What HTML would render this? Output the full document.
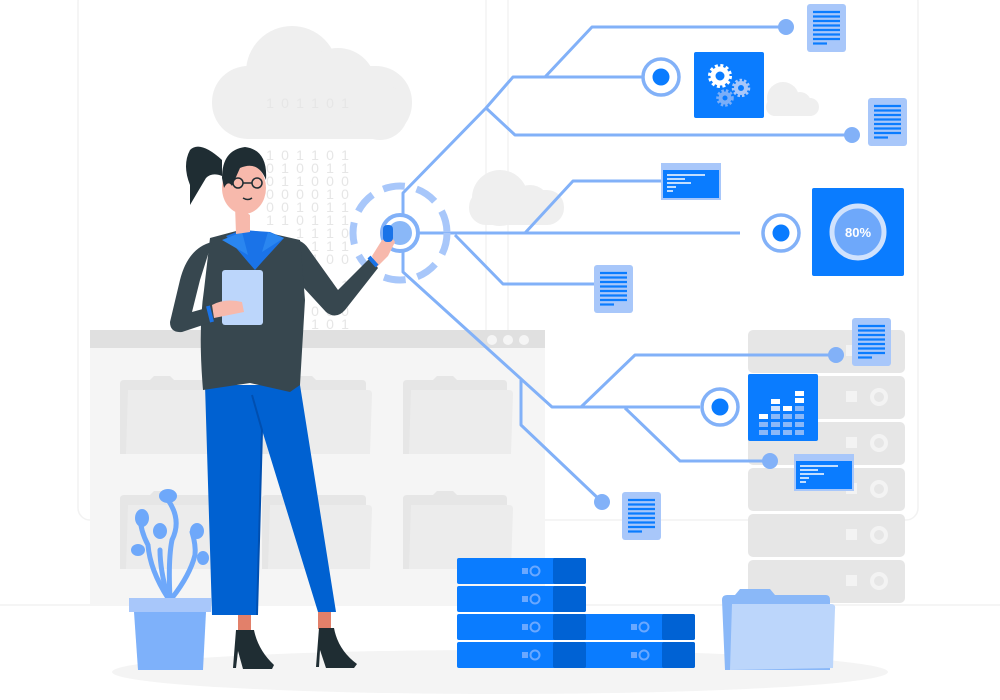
<!DOCTYPE html>
<html><head><meta charset="utf-8"><style>
html,body{margin:0;padding:0;background:#fff;width:1000px;height:700px;overflow:hidden}
svg{display:block}
</style></head><body>
<svg width="1000" height="700" viewBox="0 0 1000 700" xmlns="http://www.w3.org/2000/svg" font-family="Liberation Sans, sans-serif">
<defs>
<g id="doc"><rect x="0" y="0" width="39" height="48" rx="3" fill="#a8c7fa"/>
<g stroke="#0a7cff" stroke-width="2.2"><line x1="6" y1="8" x2="33" y2="8"/><line x1="6" y1="12.5" x2="33" y2="12.5"/><line x1="6" y1="17" x2="33" y2="17"/><line x1="6" y1="21.5" x2="33" y2="21.5"/><line x1="6" y1="26" x2="33" y2="26"/><line x1="6" y1="30.5" x2="33" y2="30.5"/><line x1="6" y1="35" x2="33" y2="35"/><line x1="6" y1="39.5" x2="20" y2="39.5"/></g></g>
<g id="win"><rect x="0" y="0" width="60" height="37" fill="#a8c7fa"/><rect x="2" y="7" width="56" height="28" fill="#0a7cff"/>
<g stroke="#fff" stroke-width="1.5"><line x1="6" y1="12" x2="44" y2="12"/><line x1="6" y1="16" x2="24" y2="16"/><line x1="6" y1="20" x2="30" y2="20"/><line x1="6" y1="24" x2="15" y2="24"/><line x1="6" y1="28" x2="12" y2="28"/></g></g>
<g id="folder"><path d="M0 8 Q0 4 4 4 L30 4 L34 0 L50 0 L54 4 L100 4 Q104 4 104 8 L104 78 L0 78Z" fill="#e6e6e6"/><path d="M8 14 L106 14 Q110 14 110 18 L108 78 L6 78 Z" fill="#ececec"/></g>
<g id="rack"><rect x="0" y="0" width="157" height="43" rx="5" fill="#e6e6e6"/><rect x="98" y="15" width="11" height="11" fill="#f3f3f3"/><circle cx="131" cy="21" r="7" fill="none" stroke="#f3f3f3" stroke-width="4"/></g>
<g id="srv"><rect x="0" y="0" width="129" height="26" rx="2" fill="#0a7cff"/><rect x="96" y="0" width="33" height="26" rx="2" fill="#0062d4"/><rect x="65" y="10" width="6" height="6" fill="#6aa8ff"/><circle cx="78" cy="13" r="4.5" fill="none" stroke="#6aa8ff" stroke-width="2"/></g>
</defs>
<rect x="78" y="-10" width="840" height="530" rx="12" fill="none" stroke="#f2f2f2" stroke-width="1.5"/>
<line x1="486" y1="0" x2="486" y2="330" stroke="#f4f4f4" stroke-width="1.5"/>
<line x1="508" y1="0" x2="508" y2="330" stroke="#f4f4f4" stroke-width="1.5"/>
<line x1="0" y1="605" x2="1000" y2="605" stroke="#f2f2f2" stroke-width="1.5"/>
<ellipse cx="500" cy="672" rx="388" ry="22" fill="#f4f4f4"/>
<g fill="#efefef">
<rect x="212" y="66" width="200" height="73" rx="36"/><circle cx="292" cy="72" r="46"/><circle cx="338" cy="86" r="38"/><circle cx="380" cy="112" r="28"/>
<rect x="469" y="190" width="95" height="35" rx="17"/><circle cx="500" cy="198" r="28"/><circle cx="530" cy="205" r="20"/>
<rect x="766" y="98" width="53" height="18" rx="9"/><circle cx="783" cy="98" r="16"/><circle cx="800" cy="103" r="11"/>
</g>
<g fill="#e6e6e6" font-size="14" text-anchor="middle">
<text x="270" y="108">1</text><text x="285" y="108">0</text><text x="300" y="108">1</text><text x="315" y="108">1</text><text x="330" y="108">0</text><text x="345" y="108">1</text>
<text x="270" y="160">1</text><text x="285" y="160">0</text><text x="300" y="160">1</text><text x="315" y="160">1</text><text x="330" y="160">0</text><text x="345" y="160">1</text>
<text x="270" y="173">0</text><text x="285" y="173">1</text><text x="300" y="173">0</text><text x="315" y="173">0</text><text x="330" y="173">1</text><text x="345" y="173">1</text>
<text x="270" y="186">0</text><text x="285" y="186">1</text><text x="300" y="186">1</text><text x="315" y="186">0</text><text x="330" y="186">0</text><text x="345" y="186">0</text>
<text x="270" y="199">0</text><text x="285" y="199">0</text><text x="300" y="199">0</text><text x="315" y="199">0</text><text x="330" y="199">1</text><text x="345" y="199">0</text>
<text x="270" y="212">0</text><text x="285" y="212">0</text><text x="300" y="212">1</text><text x="315" y="212">0</text><text x="330" y="212">1</text><text x="345" y="212">1</text>
<text x="270" y="225">1</text><text x="285" y="225">1</text><text x="300" y="225">0</text><text x="315" y="225">1</text><text x="330" y="225">1</text><text x="345" y="225">1</text>
<text x="300" y="238">1</text><text x="315" y="238">1</text><text x="330" y="238">1</text><text x="345" y="238">0</text>
<text x="300" y="251">0</text><text x="315" y="251">1</text><text x="330" y="251">1</text><text x="345" y="251">1</text>
<text x="300" y="264">0</text><text x="315" y="264">1</text><text x="330" y="264">0</text><text x="345" y="264">0</text>
<text x="300" y="290">1</text><text x="315" y="290">0</text><text x="330" y="290">0</text><text x="345" y="290">1</text>
<text x="300" y="316">1</text><text x="315" y="316">0</text><text x="330" y="316">0</text><text x="345" y="316">0</text>
<text x="300" y="329">1</text><text x="315" y="329">1</text><text x="330" y="329">0</text><text x="345" y="329">1</text>
</g>
<rect x="90" y="330" width="455" height="275" fill="#f5f5f5"/>
<rect x="90" y="330" width="455" height="18" fill="#e0e0e0"/>
<circle cx="492" cy="340" r="5" fill="#f5f5f5"/><circle cx="508" cy="340" r="5" fill="#f5f5f5"/><circle cx="524" cy="340" r="5" fill="#f5f5f5"/>
<use href="#folder" x="120" y="376"/><use href="#folder" x="262" y="376"/><use href="#folder" x="403" y="376"/>
<use href="#folder" x="120" y="491"/><use href="#folder" x="262" y="491"/><use href="#folder" x="403" y="491"/>
<use href="#rack" x="748" y="330"/><use href="#rack" x="748" y="376"/><use href="#rack" x="748" y="422"/><use href="#rack" x="748" y="468"/><use href="#rack" x="748" y="514"/><use href="#rack" x="748" y="560"/>
<g stroke="#82b1f8" stroke-width="3" fill="none" stroke-linejoin="round">
<polyline points="403,233 403,193 486,108 513,77 645,77"/>
<polyline points="545,77 592,27 786,27"/>
<polyline points="486,108 515,135 852,135"/>
<polyline points="403,233 740,233"/>
<polyline points="525,233 573,181 680,181"/>
<polyline points="455,235 503,284 602,284"/>
<polyline points="403,233 403,272 552,407 700,407"/>
<polyline points="521,380 521,425 602,502"/>
<polyline points="581,407 635,355 836,355"/>
<polyline points="625,408 680,461 770,461"/>
</g>
<g fill="#82b1f8"><circle cx="786" cy="27" r="8"/><circle cx="852" cy="135" r="8"/><circle cx="680" cy="181" r="8"/><circle cx="602" cy="284" r="8"/><circle cx="836" cy="355" r="8"/><circle cx="770" cy="461" r="8"/><circle cx="602" cy="502" r="8"/></g>
<g fill="#fff" stroke="#82b1f8" stroke-width="3.5"><circle cx="661" cy="77" r="18"/><circle cx="781" cy="233" r="18"/><circle cx="720" cy="407" r="18"/></g>
<g fill="#0a7cff"><circle cx="661" cy="77" r="8.5"/><circle cx="781" cy="233" r="8.5"/><circle cx="720" cy="407" r="8.5"/></g>
<g fill="none" stroke="#a8c7fa" stroke-width="7" stroke-dasharray="22 12"><circle cx="400" cy="233" r="47"/></g>
<circle cx="400" cy="233" r="18" fill="#fff" stroke="#82b1f8" stroke-width="4"/>
<circle cx="400" cy="233" r="12" fill="#8ab8f8"/>
<use href="#doc" x="807" y="4"/><use href="#doc" x="868" y="98"/><use href="#doc" x="594" y="265"/><use href="#doc" x="852" y="318"/><use href="#doc" x="622" y="492"/>
<use href="#win" x="661" y="163"/><use href="#win" x="794" y="454"/>
<rect x="694" y="52" width="70" height="66" rx="2" fill="#0a7cff"/>
<g fill="none" stroke-linecap="butt">
<circle cx="720" cy="76" r="7" stroke="#fff" stroke-width="5"/><circle cx="720" cy="76" r="10.5" stroke="#fff" stroke-width="3" stroke-dasharray="3 2.5"/>
<circle cx="741" cy="88" r="5" stroke="#a8c7fa" stroke-width="4"/><circle cx="741" cy="88" r="8" stroke="#a8c7fa" stroke-width="2.5" stroke-dasharray="2.5 2"/>
<circle cx="725" cy="98" r="4.5" stroke="#7aaef8" stroke-width="4"/><circle cx="725" cy="98" r="7.5" stroke="#7aaef8" stroke-width="2.5" stroke-dasharray="2.5 2"/>
</g>
<rect x="812" y="188" width="92" height="88" rx="2" fill="#0a7cff"/>
<circle cx="858" cy="232" r="26" fill="#6ea8fa" stroke="#d0e2fd" stroke-width="5"/>
<text x="858" y="237" fill="#fff" font-size="13" font-weight="bold" text-anchor="middle">80%</text>
<rect x="748" y="374" width="70" height="67" rx="2" fill="#0a7cff"/>
<g fill="#8ab8f8"><rect x="759" y="422" width="9" height="5"/><rect x="759" y="430" width="9" height="5"/><rect x="771" y="422" width="9" height="5"/><rect x="771" y="430" width="9" height="5"/><rect x="771" y="414" width="9" height="5"/><rect x="783" y="422" width="9" height="5"/><rect x="783" y="430" width="9" height="5"/><rect x="783" y="414" width="9" height="5"/><rect x="795" y="422" width="9" height="5"/><rect x="795" y="430" width="9" height="5"/><rect x="795" y="414" width="9" height="5"/><rect x="795" y="406" width="9" height="5"/></g>
<g fill="#fff"><rect x="759" y="414" width="9" height="5"/><rect x="771" y="399" width="9" height="5"/><rect x="783" y="406" width="9" height="5"/><rect x="795" y="391" width="9" height="5"/><rect x="795" y="398" width="9" height="5"/></g>
<g fill="#d0e2fd"><rect x="771" y="406" width="9" height="5"/></g>
<use href="#srv" x="457" y="558"/><use href="#srv" x="457" y="586"/><use href="#srv" x="566" y="614"/><use href="#srv" x="566" y="642"/><use href="#srv" x="457" y="614"/><use href="#srv" x="457" y="642"/>
<path d="M722 600 Q722 595 727 595 L735 595 L740 589 L770 589 L775 595 L826 595 Q830 595 830 600 L830 670 L725 670 Z" fill="#8ab8f8"/>
<path d="M732 604 L831 604 Q836 604 835 609 L833 668 L730 670 Z" fill="#bcd6fb"/>
<g stroke="#6ea8fa" stroke-width="5" fill="none" stroke-linecap="round">
<path d="M170 598 Q168 560 172 540 Q182 520 168 500"/>
<path d="M168 598 Q150 570 148 545 Q140 530 140 515"/>
<path d="M168 598 Q160 570 160 550"/>
<path d="M172 598 Q190 575 195 555 Q196 545 192 532"/>
</g>
<g fill="#6ea8fa"><ellipse cx="168" cy="496" rx="9" ry="7"/><ellipse cx="142" cy="518" rx="7" ry="9"/><ellipse cx="160" cy="531" rx="7" ry="8"/><ellipse cx="197" cy="531" rx="7" ry="8"/><ellipse cx="138" cy="550" rx="7" ry="6"/><ellipse cx="203" cy="558" rx="6" ry="7"/></g>
<rect x="129" y="598" width="82" height="14" fill="#a8c7fa"/>
<path d="M134 612 L206 612 L203 670 L138 670 Z" fill="#7eb1fa"/>
<!-- woman legs -->
<path d="M205 385 L300 385 L336 612 L318 612 L262 430 L257 615 L212 615 Z" fill="#0061d1"/>
<path d="M252 395 L262 430 L257 615" stroke="#004fb0" stroke-width="2" fill="none"/>
<rect x="238" y="615" width="13" height="17" fill="#e2806a"/><rect x="318" y="612" width="13" height="17" fill="#e2806a"/>
<path d="M236 630 L254 630 Q258 650 274 665 L272 669 L243 669 L238 651 L236 668 L233 668 Z" fill="#1f2d33"/>
<path d="M319 628 L334 628 Q338 650 357 664 L354 668 L326 668 L320 650 L319 667 L316 667 Z" fill="#1f2d33"/>
<!-- reaching arm -->
<path d="M280 240 Q300 236 308 248 L338 290 L370 258 L378 268 L345 310 Q336 320 326 312 L292 275 Z" fill="#37474f"/>
<path d="M372 256 L382 240 Q392 235 395 242 L388 256 L377 267 Z" fill="#f7b9ac"/>
<rect x="383" y="225" width="10" height="17" rx="4" fill="#1a73e8"/>
<path d="M369 257 L377 266" stroke="#1a73e8" stroke-width="4"/>
<!-- jacket body -->
<path d="M210 238 L240 230 L265 232 L300 240 L305 300 L300 385 L290 392 L250 383 L203 390 Q198 330 204 290 Z" fill="#37474f"/>
<path d="M226 236 L242 230 L270 232 L284 238 L262 262 L255 270 L248 262 Z" fill="#1a73e8"/>
<path d="M222 240 L242 232 L248 255 Z" fill="#2a86f0"/>
<path d="M284 238 L268 232 L262 252 Z" fill="#2a86f0"/>
<!-- left arm -->
<path d="M212 242 Q188 248 180 280 L170 322 Q170 333 182 332 L212 322 L210 307 L192 312 L200 280 Z" fill="#37474f"/>
<rect x="222" y="270" width="41" height="55" rx="3" fill="#bcd6fb"/>
<path d="M212 305 Q225 298 242 302 L244 312 L214 318 Z" fill="#f7b9ac"/>
<path d="M208 306 L212 322" stroke="#1a73e8" stroke-width="4"/>
<!-- head -->
<path d="M235 205 L250 215 L250 232 L236 234 Z" fill="#f7b9ac"/>
<ellipse cx="244" cy="188" rx="22" ry="26" fill="#f7b9ac"/>
<path d="M222 178 Q222 150 245 147 Q268 150 266 180 Q258 160 240 168 L232 186 Q228 180 224 188 Z" fill="#1f2d33"/>
<path d="M222 160 Q200 140 190 150 Q182 165 190 185 L190 205 Q200 188 206 178 Q212 172 222 176 Z" fill="#1f2d33"/>
<circle cx="238" cy="183" r="5" fill="none" stroke="#1f2d33" stroke-width="1.5"/><circle cx="257" cy="183" r="5" fill="none" stroke="#1f2d33" stroke-width="1.5"/>
<line x1="243" y1="183" x2="252" y2="183" stroke="#1f2d33" stroke-width="1.5"/>
<path d="M243 198 Q248 201 252 198" stroke="#1f2d33" stroke-width="1.5" fill="none"/>
</svg>
</body></html>
